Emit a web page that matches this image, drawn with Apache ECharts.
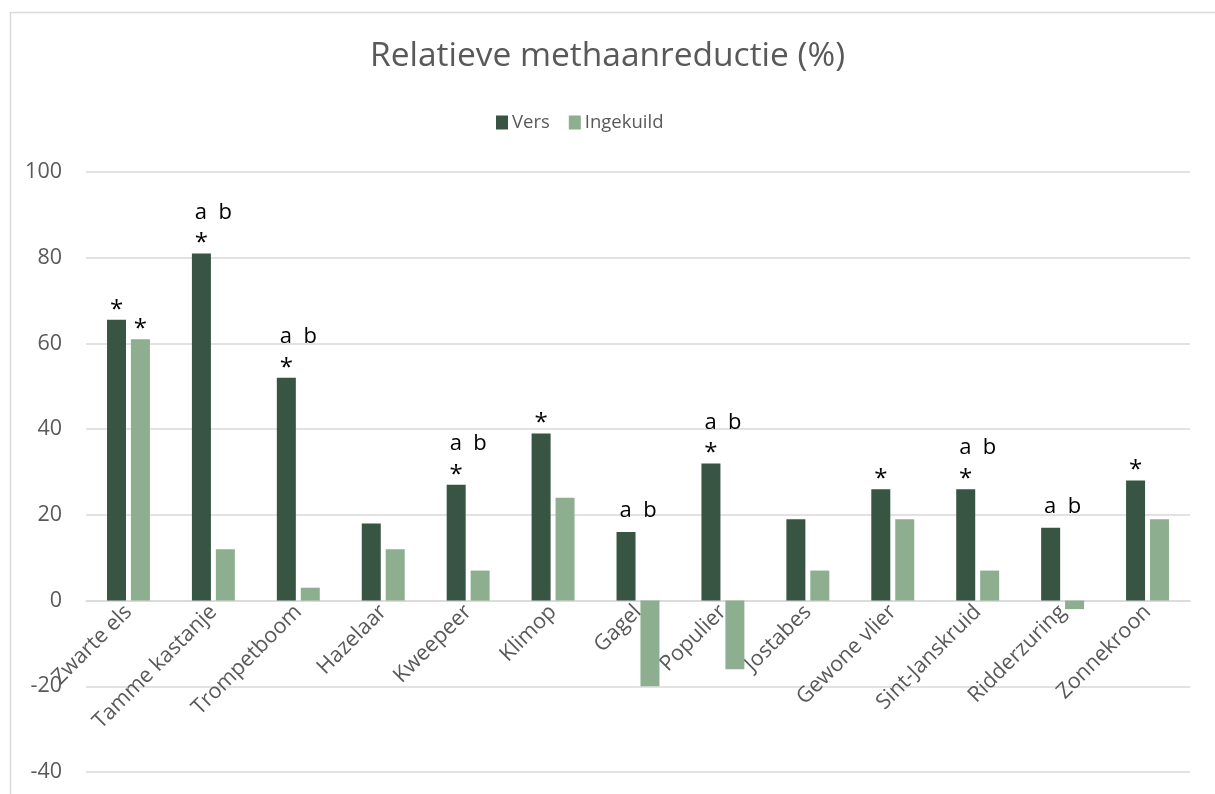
<!DOCTYPE html>
<html>
<head>
<meta charset="utf-8">
<script src="https://cdn.jsdelivr.net/npm/echarts@6/dist/echarts.min.js"></script>
<style>
	html, body { margin: 0; padding: 0; background: #fff; }
	#main { width: 1215px; height: 794px; }
</style>
</head>
<body>
<div id="main"></div>
<script>
var categories = ['Zwarte els', 'Tamme kastanje', 'Trompetboom', 'Hazelaar', 'Kweepeer', 'Klimop', 'Gagel',
	'Populier', 'Jostabes', 'Gewone vlier', 'Sint-Janskruid', 'Ridderzuring', 'Zonnekroon'];
var versValues = [65.5, 81, 52, 18, 27, 39, 16, 32, 19, 26, 26, 17, 28];
var ingekuildValues = [61, 12, 3, 12, 7, 24, -20, -16, 7, 19, 7, -2, 19];
// significantie: ster boven de balk, letters boven de groep
var versStar = [1, 1, 1, 0, 1, 1, 0, 1, 0, 1, 1, 0, 1];
var versLetters = ['', 'a  b', 'a  b', '', 'a  b', '', 'a  b', 'a  b', '', '', 'a  b', 'a  b', ''];
var ingekuildStar = [1, 0, 0, 0, 0, 0, 0, 0, 0, 0, 0, 0, 0];
var yTicks = [-40, -20, 0, 20, 40, 60, 80, 100];

var font = '"Open Sans", "Noto Sans", sans-serif';
var grey = '#595959';
var lineColor = '#d9d9d9';

var gridTop = 172;
var gridBottom = 22;
var plotHeight = 794 - gridTop - gridBottom;
// categorie-as ligt op 0 (zoals in Excel), labels gaan mee
var zeroOffset = plotHeight * (0 - yTicks[0]) / (yTicks[yTicks.length - 1] - yTicks[0]);

var chart = echarts.init(document.getElementById('main'));

var option = {
	animation : false,
	backgroundColor : '#fff',
	textStyle : { fontFamily : font },
	graphic : [{
		type : 'rect',
		shape : { x : 10.5, y : 12.5, width : 1400, height : 900 },
		style : { fill : 'none', stroke : lineColor, lineWidth : 1.5 },
		silent : true
	}],
	title : {
		text : 'Relatieve methaanreductie (%)',
		left : 'center',
		top : 34,
		textStyle : { fontFamily : font, fontSize : 33.5, fontWeight : 'normal', color : grey }
	},
	legend : {
		top : 108,
		left : 491,
		itemWidth : 12,
		itemHeight : 14,
		itemGap : 19,
		icon : 'rect',
		textStyle : { fontFamily : font, fontSize : 18.5, color : grey, padding : [0, 0, 0, -1] },
		data : ['Vers', 'Ingekuild']
	},
	grid : { left : 86, right : 25, top : gridTop, bottom : gridBottom, containLabel : false, outerBoundsMode : 'none' },
	xAxis : {
		type : 'category',
		data : categories,
		position : 'bottom',
		offset : -zeroOffset,
		axisLine : { onZero : false, lineStyle : { color : lineColor, width : 1.5 } },
		axisTick : { show : false },
		axisLabel : {
			rotate : 45,
			interval : 0,
			margin : 8,
			fontFamily : font,
			fontSize : 21.5,
			color : grey
		}
	},
	yAxis : {
		type : 'value',
		min : yTicks[0],
		max : yTicks[yTicks.length - 1],
		interval : 20,
		axisLine : { show : false },
		axisTick : { show : false },
		splitLine : { lineStyle : { color : lineColor, width : 1.5 } },
		axisLabel : { margin : 24, fontFamily : font, fontSize : 21.5, color : grey }
	},
	series : [{
		name : 'Vers',
		type : 'bar',
		data : versValues,
		barWidth : 19,
		barGap : '26%',
		itemStyle : { color : '#375542' },
		label : {
			show : true,
			position : 'top',
			distance : 0,
			formatter : function(p) {
				var lines = [];
				if (versLetters[p.dataIndex] != '') {
					lines.push('{ab|' + versLetters[p.dataIndex] + '}');
				}
				if (versStar[p.dataIndex]) {
					lines.push('{st|*}');
				}
				return lines.join('\n');
			},
			rich : {
				ab : { fontFamily : font, fontSize : 22, color : '#000', lineHeight : 42, padding : [0, 0, 0, 24] },
				st : { fontFamily : font, fontSize : 24, color : '#000', lineHeight : 20 }
			}
		}
	}, {
		name : 'Ingekuild',
		type : 'bar',
		data : ingekuildValues,
		barWidth : 19,
		itemStyle : { color : '#8dae8f' },
		label : {
			show : true,
			position : 'top',
			distance : 0,
			formatter : function(p) {
				return ingekuildStar[p.dataIndex] ? '{st|*}' : '';
			},
			rich : {
				st : { fontFamily : font, fontSize : 24, color : '#000', lineHeight : 20 }
			}
		}
	}]
};

chart.setOption(option);
</script>
</body>
</html>
